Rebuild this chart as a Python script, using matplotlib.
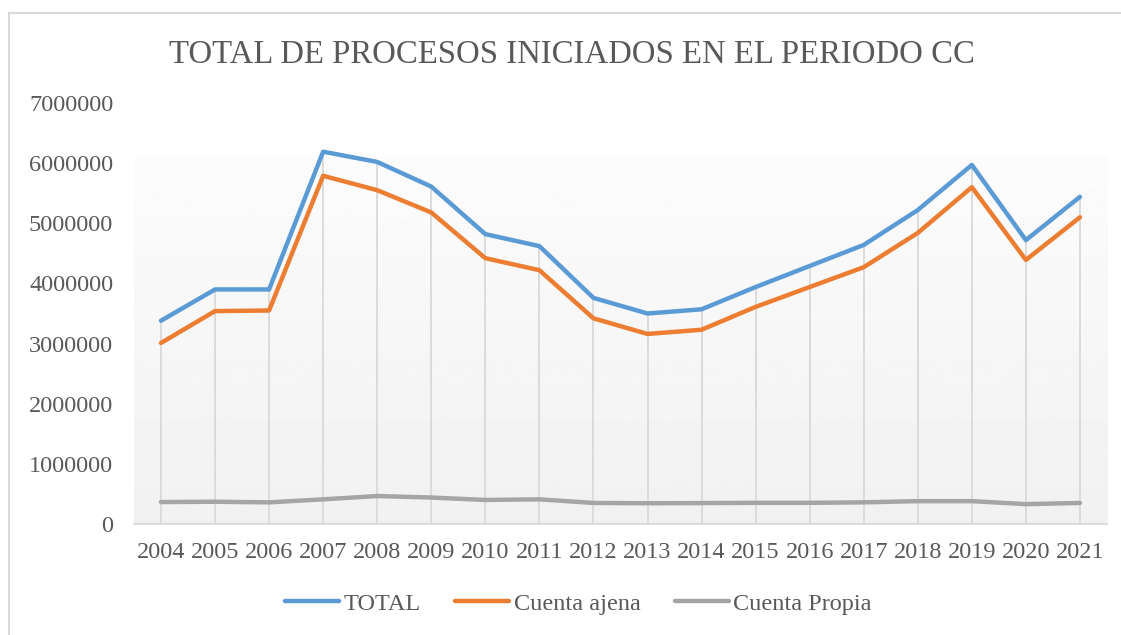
import numpy as np
import matplotlib
matplotlib.use('Agg')
from matplotlib import pyplot as plt
from matplotlib.patches import Rectangle

years = ['2004', '2005', '2006', '2007', '2008', '2009', '2010', '2011', '2012',
         '2013', '2014', '2015', '2016', '2017', '2018', '2019', '2020', '2021']
total = [3380000, 3900000, 3900000, 6190000, 6020000, 5610000, 4820000, 4620000, 3760000,
         3500000, 3570000, 3940000, 4290000, 4640000, 5220000, 5970000, 4720000, 5440000]
cuenta_ajena = [3010000, 3540000, 3550000, 5790000, 5550000, 5180000, 4420000, 4220000, 3420000,
                3160000, 3230000, 3610000, 3940000, 4270000, 4840000, 5600000, 4390000, 5100000]
cuenta_propia = [365000, 370000, 360000, 410000, 465000, 440000, 400000, 410000, 350000,
                 345000, 348000, 352000, 352000, 360000, 380000, 380000, 330000, 350000]

plt.rcParams['font.family'] = ['Liberation Serif', 'DejaVu Serif']
txt = '#595959'

fig = plt.figure(figsize=(11.21, 6.35), dpi=100)
ax = fig.add_axes([0.1195, 0.1748, 0.868, 0.663])

x = np.arange(len(years))

# gradient fill of the plot area (white at the top, light grey at the bottom)
grad = np.linspace(0.988, 0.945, 256).reshape(-1, 1)
ax.imshow(grad, cmap='gray', vmin=0, vmax=1, aspect='auto',
          extent=[-0.5, len(years) - 0.5, 0, 6100000], zorder=0)

# drop lines from the top series down to the axis
ax.vlines(x, 0, total, color='#d9d9d9', lw=1.3, zorder=1)

ax.plot(x, total, color='#5B9BD5', lw=3.2, label='TOTAL', zorder=3, solid_capstyle='round')
ax.plot(x, cuenta_ajena, color='#ED7D31', lw=3.2, label='Cuenta ajena', zorder=3, solid_capstyle='round')
ax.plot(x, cuenta_propia, color='#A5A5A5', lw=3.2, label='Cuenta Propia', zorder=3, solid_capstyle='round')

ax.set_xlim(-0.5, len(years) - 0.5)
ax.set_ylim(0, 7000000)
ax.set_yticks(range(0, 7000001, 1000000))
ax.set_yticklabels([str(v) for v in range(0, 7000001, 1000000)])
ax.set_xticks(x)
ax.set_xticklabels(years)

for s in ['top', 'right', 'left']:
    ax.spines[s].set_visible(False)
ax.spines['bottom'].set_color('#d9d9d9')
ax.spines['bottom'].set_linewidth(1.3)
ax.tick_params(axis='both', length=0, labelsize=17.5, labelcolor=txt)
ax.tick_params(axis='x', pad=13)
ax.tick_params(axis='y', pad=15)

fig.text(0.51, 0.913, 'TOTAL DE PROCESOS INICIADOS EN EL PERIODO CC',
         ha='center', va='center', fontsize=23.6, color=txt)

leg = fig.legend(loc='center', bbox_to_anchor=(0.516, 0.049), ncol=3, frameon=False,
                 fontsize=17.5, handlelength=2.22, handletextpad=0.19, columnspacing=1.4)
for t in leg.get_texts():
    t.set_color(txt)

# chart border (right and bottom edges fall outside the picture)
fig.patches.append(Rectangle((8.5 / 1121, -0.05), 1.2, 0.05 + (635 - 12.5) / 635,
                             transform=fig.transFigure, fill=False,
                             edgecolor='#d9d9d9', lw=1.5))

fig.savefig('out.png', dpi=100)
